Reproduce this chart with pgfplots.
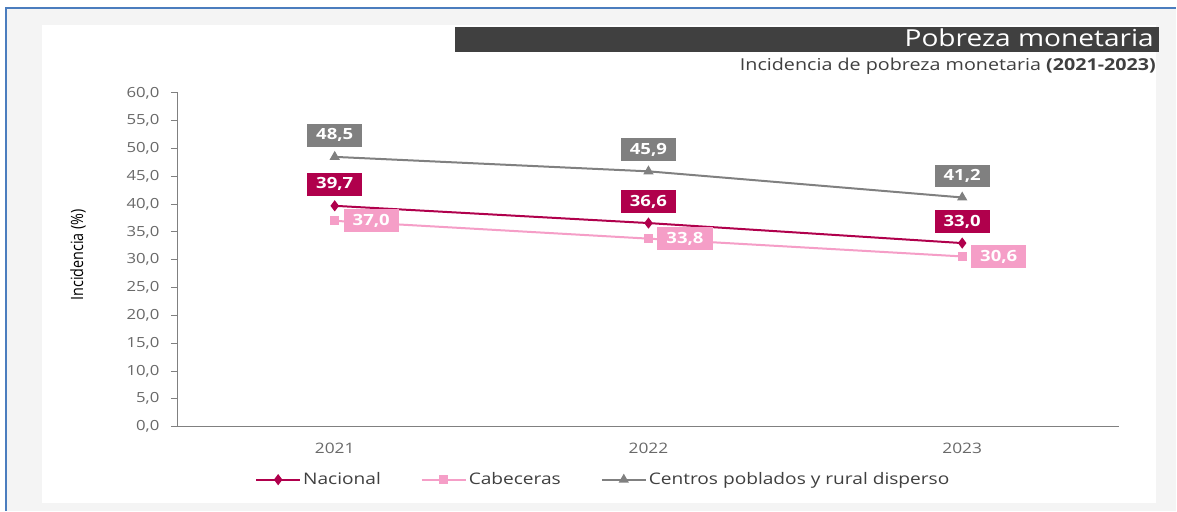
\documentclass[border=0pt]{standalone}
\usepackage{fontspec}
\setmainfont{Open Sans}[FakeStretch=1.2]
\newfontfamily\condfont[FakeStretch=0.85]{Open Sans}
\usepackage{pgfplots}
\pgfplotsset{compat=1.18}
\definecolor{nac}{RGB}{176,0,76}
\definecolor{cab}{RGB}{245,158,199}
\definecolor{cen}{RGB}{128,128,128}
\definecolor{axgray}{RGB}{128,128,128}
\definecolor{tickgray}{RGB}{105,105,105}
\definecolor{bluebord}{RGB}{75,125,190}
\definecolor{bgpanel}{RGB}{244,244,244}
\definecolor{barc}{RGB}{64,64,64}
\begin{document}
\begin{tikzpicture}[x=1bp,y=1bp]
\fill[white] (0,0) rectangle (1177,511);
\fill[bgpanel] (6,0) rectangle (1177,503);
\fill[white] (42,8) rectangle (1157,486);
\draw[bluebord, line width=2bp] (6,0) -- (6,503) -- (1177,503);
\fill[barc] (455,459) rectangle (1160,484);
\node[anchor=base east, text=white, font=\fontsize{23.5}{28}\selectfont, inner sep=0] at (1155,464) {Pobreza monetaria};
\node[anchor=base east, text=black!75, font=\fontsize{16.5}{20}\selectfont, inner sep=0] at (1157,440) {Incidencia de pobreza monetaria \textbf{(2021-2023)}};
\node[rotate=90, font=\condfont\fontsize{17}{19}\selectfont, text=black] at (78,256) {Incidencia (\%)};
\begin{axis}[
  at={(178bp,84bp)}, anchor=south west,
  scale only axis, width=942bp, height=334bp,
  xmin=-0.5, xmax=2.5, ymin=0, ymax=60,
  axis lines*=left,
  axis line style={axgray, line width=1.2bp},
  xtick={0,1,2}, xticklabels={2021,2022,2023},
  x tick style={draw=none},
  ytick distance=5,
  y tick style={axgray, line width=1bp},
  tick align=outside,
  major tick length=7bp,
  yticklabel style={text=tickgray, font=\fontsize{14}{16}\selectfont, xshift=-8bp},
  xticklabel style={text=tickgray, font=\fontsize{14.5}{16}\selectfont, yshift=-6bp},
  /pgf/number format/assume math mode=true,
  y tick label style={/pgf/number format/.cd, fixed, fixed zerofill, precision=1, use comma},
  clip=false,
  legend columns=-1,
  legend style={at={(0.452,-0.159)}, anchor=center, draw=none, fill=none,
    font=\fontsize{16}{18}\selectfont, text=black!75,
    /tikz/every even column/.append style={column sep=38bp}},
  legend image code/.code={\draw[mark repeat=2,mark phase=2] plot coordinates {(0bp,0bp) (22bp,0bp) (44bp,0bp)};},
  nodes near coords,
  nodes near coords style={/pgf/number format/.cd, fixed, fixed zerofill, precision=1, use comma, /tikz/.cd,
    text=white, font=\bfseries\fontsize{15.5}{17}\selectfont, inner xsep=9bp, inner ysep=2bp, minimum height=23bp},
]
\addplot[nac, line width=2bp, mark=diamond*, mark size=4bp,
  nodes near coords style={fill=nac, anchor=south, yshift=9bp}]
  coordinates {(0,39.7) (1,36.6) (2,33.0)};
\addplot[cab, line width=2bp, mark=square*, mark size=3.5bp,
  nodes near coords style={fill=cab, anchor=west, xshift=8bp}]
  coordinates {(0,37.0) (1,33.8) (2,30.6)};
\addplot[cen, line width=2bp, mark=triangle*, mark size=4bp,
  nodes near coords style={fill=cen, anchor=south, yshift=9bp}]
  coordinates {(0,48.5) (1,45.9) (2,41.2)};
\legend{Nacional, Cabeceras, Centros poblados y rural disperso}
\end{axis}
\end{tikzpicture}
\end{document}
